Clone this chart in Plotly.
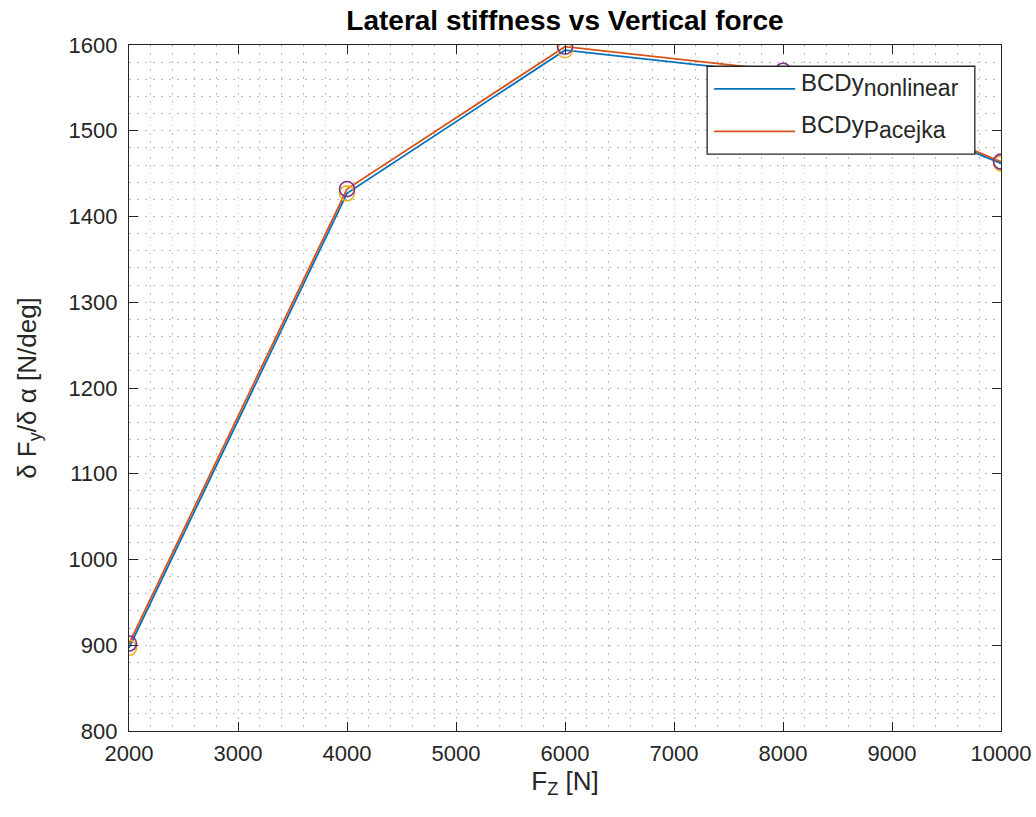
import plotly.graph_objects as go

# Vertical load [N]
fz = [2000, 4000, 6000, 8000, 10000]
# Cornering stiffness [N/deg]
bcdy_nonlinear = [897, 1427, 1594, 1566, 1462]
bcdy_pacejka = [902, 1432, 1598, 1570, 1464]

x_ticks = [2000, 3000, 4000, 5000, 6000, 7000, 8000, 9000, 10000]
y_ticks = [800, 900, 1000, 1100, 1200, 1300, 1400, 1500, 1600]
legend_names = ["BCDy<sub><span style='font-size:23px'>nonlinear</span></sub>",
                "BCDy<sub><span style='font-size:23px'>Pacejka</span></sub>"]

BLUE = "#0072BD"
ORANGE = "#D95319"
YELLOW = "#EDB120"
PURPLE = "#7E2F8E"
FONT = "Liberation Sans, Arial, sans-serif"
AX = "#262626"
GRID = "#bdbdbd"
DASH = "1.5px,6.5px"

fig = go.Figure()
fig.add_trace(go.Scatter(x=fz, y=bcdy_nonlinear, mode="lines",
                         line=dict(color=BLUE, width=1.8), showlegend=False))
fig.add_trace(go.Scatter(x=fz, y=bcdy_pacejka, mode="lines",
                         line=dict(color=ORANGE, width=1.8), showlegend=False))
fig.add_trace(go.Scatter(x=fz, y=bcdy_nonlinear, mode="markers", showlegend=False,
                         marker=dict(symbol="circle-open", size=15,
                                     line=dict(color=YELLOW, width=1.6), color=YELLOW)))
fig.add_trace(go.Scatter(x=fz, y=bcdy_pacejka, mode="markers", showlegend=False,
                         marker=dict(symbol="circle-open", size=15,
                                     line=dict(color=PURPLE, width=1.6), color=PURPLE)))

axis_common = dict(
    showline=True, linecolor=AX, linewidth=1.3, mirror="allticks",
    ticks="inside", ticklen=9, tickcolor=AX, tickwidth=1.3,
    showgrid=True, gridcolor=GRID, griddash=DASH, gridwidth=1,
    zeroline=False, automargin=False,
    tickfont=dict(family=FONT, size=22, color=AX),
)

fig.update_xaxes(**axis_common, range=[2000, 10000], tickvals=x_ticks,
                 ticktext=[str(v) for v in x_ticks], ticklabelstandoff=2,
                 minor=dict(dtick=200, showgrid=True, gridcolor=GRID,
                            griddash=DASH, gridwidth=1, ticks=""),
                 title=dict(text="F<sub>Z</sub> [N]",
                            font=dict(family=FONT, size=26, color=AX), standoff=4))
fig.update_yaxes(**axis_common, range=[800, 1600], tickvals=y_ticks,
                 ticktext=[str(v) for v in y_ticks], ticklabelstandoff=6,
                 minor=dict(dtick=20, showgrid=True, gridcolor=GRID,
                            griddash=DASH, gridwidth=1, ticks=""),
                 title=dict(text="δ F<sub>y</sub>/δ α [N/deg]",
                            font=dict(family=FONT, size=26, color=AX), standoff=24))

# Legend box drawn in paper coordinates
box = dict(x0=0.663, x1=0.970, y0=0.841, y1=0.969)
fig.add_shape(type="rect", xref="paper", yref="paper", **box,
              fillcolor="white", line=dict(color=AX, width=1.3), layer="above")
for name, color, yrow in zip(legend_names, [BLUE, ORANGE], [0.936, 0.874]):
    fig.add_shape(type="line", xref="paper", yref="paper",
                  x0=0.671, x1=0.764, y0=yrow, y1=yrow,
                  line=dict(color=color, width=1.8), layer="above")
    fig.add_annotation(xref="paper", yref="paper", x=0.768, y=yrow + 0.006,
                       xanchor="left", yanchor="middle", showarrow=False,
                       text=name, font=dict(family=FONT, size=24, color=AX))

fig.update_layout(
    width=1036, height=817,
    margin=dict(l=129, r=35, t=45, b=86),
    paper_bgcolor="white", plot_bgcolor="white",
    title=dict(text="<b>Lateral stiffness vs Vertical force</b>",
               font=dict(family=FONT, size=28, color="black"),
               x=0.5, xanchor="center", xref="paper", y=0.975, yanchor="middle"),
    showlegend=False,
)

fig.write_html("out.html")
